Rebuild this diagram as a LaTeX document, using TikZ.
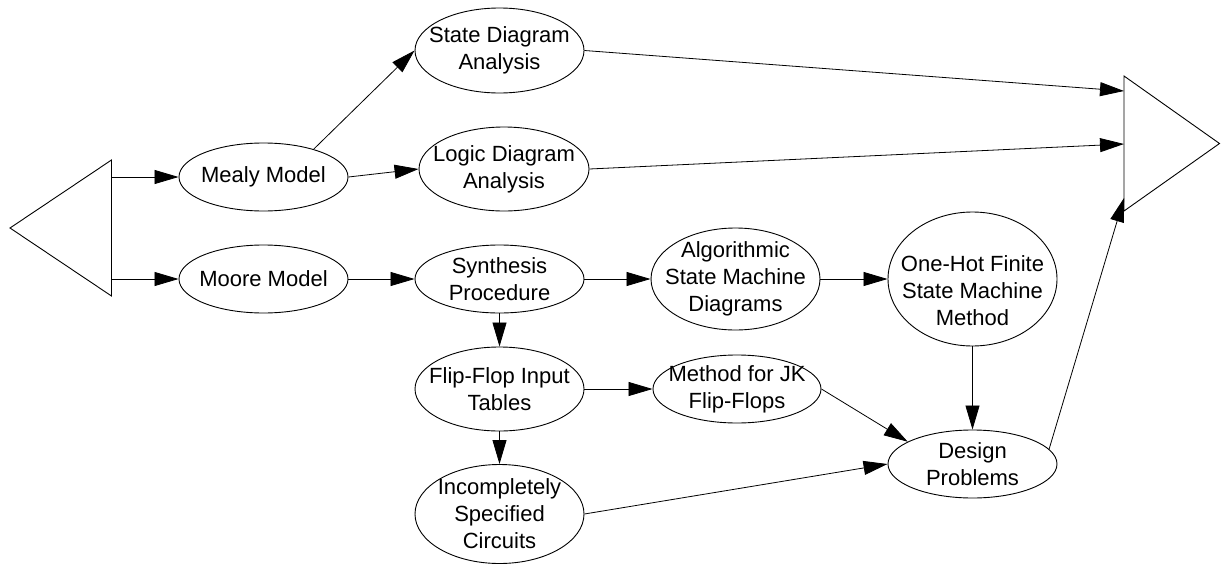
\documentclass[tikz,border=0pt]{standalone}
\usepackage{fontspec}
\setmainfont{Liberation Sans}
\usetikzlibrary{arrows.meta,shapes.geometric}
\begin{document}
\begin{tikzpicture}[x=1pt,y=-1pt,
  ell/.style={ellipse, draw, line width=0.9pt, inner sep=0pt},
  txt/.style={align=center, font=\fontsize{22}{27}\selectfont, inner sep=0pt},
  arr/.style={-{Triangle[length=24pt,width=14pt]}, line width=0.8pt},
  shp/.style={line width=0.9pt, line join=miter}]
\useasboundingbox (0,0) rectangle (1221,565);

% left and right triangles
\coordinate (lt1) at (10,228);
\coordinate (lt2) at (111.5,160);
\coordinate (lt3) at (111.5,296);
\draw[shp] (lt1) -- (lt2) -- (lt3) -- cycle;
\coordinate (lout1) at (111.5,177);
\coordinate (lout2) at (111.5,279);

\coordinate (rt1) at (1124,76);
\coordinate (rt2) at (1219.5,143.5);
\coordinate (rt3) at (1124,211);
\draw[shp] (rt1) -- (rt2) -- (rt3) -- cycle;
\coordinate (rin1) at (1124,91);
\coordinate (rin2) at (1124,144);
\coordinate (rin3) at (1124,198);

% nodes
\node[ell, minimum width=169pt, minimum height=68pt, label={[txt]center:Mealy Model}] (mealy) at (263.5,177) {};
\node[ell, minimum width=169pt, minimum height=68pt, label={[txt]center:Moore Model}] (moore) at (263.5,279) {};
\node[ell, minimum width=169pt, minimum height=85pt, label={[txt]center:{State Diagram\\Analysis}}] (sda) at (499.5,50.5) {};
\node[ell, minimum width=170pt, minimum height=84pt, label={[txt]center:{Logic Diagram\\Analysis}}] (lda) at (504,169) {};
\node[ell, minimum width=169pt, minimum height=68pt, label={[txt]center:{Synthesis\\Procedure}}] (synth) at (499.5,279) {};
\node[ell, minimum width=169pt, minimum height=102pt, label={[txt]center:{Algorithmic\\State Machine\\Diagrams}}] (alg) at (735.5,279) {};
\node[ell, minimum width=169pt, minimum height=134pt, label={[txt, yshift=-12pt]center:{One-Hot Finite\\State Machine\\Method}}] (onehot) at (972.5,279) {};
\node[ell, minimum width=169pt, minimum height=84pt, label={[txt]center:{Flip-Flop Input\\Tables}}] (ff) at (499.5,389) {};
\node[ell, minimum width=168pt, minimum height=68pt, label={[txt]center:{Method for JK\\Flip-Flops}}] (jk) at (737,389) {};
\node[ell, minimum width=169pt, minimum height=99pt, label={[txt]center:{Incompletely\\Specified\\Circuits}}] (inc) at (499.5,514) {};
\node[ell, minimum width=169pt, minimum height=68pt, label={[txt]center:{Design\\Problems}}] (design) at (972.5,464) {};

% connectors
\draw[arr] (lout1) -- (mealy.west);
\draw[arr] (lout2) -- (moore.west);
\draw[arr] (mealy.29) -- (sda.west);
\draw[arr] (mealy.east) -- (lda.west);
\draw[arr] (moore.east) -- (synth.west);
\draw[arr] (sda.east) -- (rin1);
\draw[arr] (lda.east) -- (rin2);
\draw[arr] (synth.east) -- (alg.west);
\draw[arr] (alg.east) -- (onehot.west);
\draw[arr] (synth.south) -- (ff.north);
\draw[arr] (ff.east) -- (jk.west);
\draw[arr] (ff.south) -- (inc.north);
\draw[arr] (onehot.south) -- (design.north);
\draw[arr] (jk.east) -- (design.161);
\draw[arr] (inc.east) -- (design.west);
\draw[arr] (design.11) -- (rin3);
\end{tikzpicture}
\end{document}
